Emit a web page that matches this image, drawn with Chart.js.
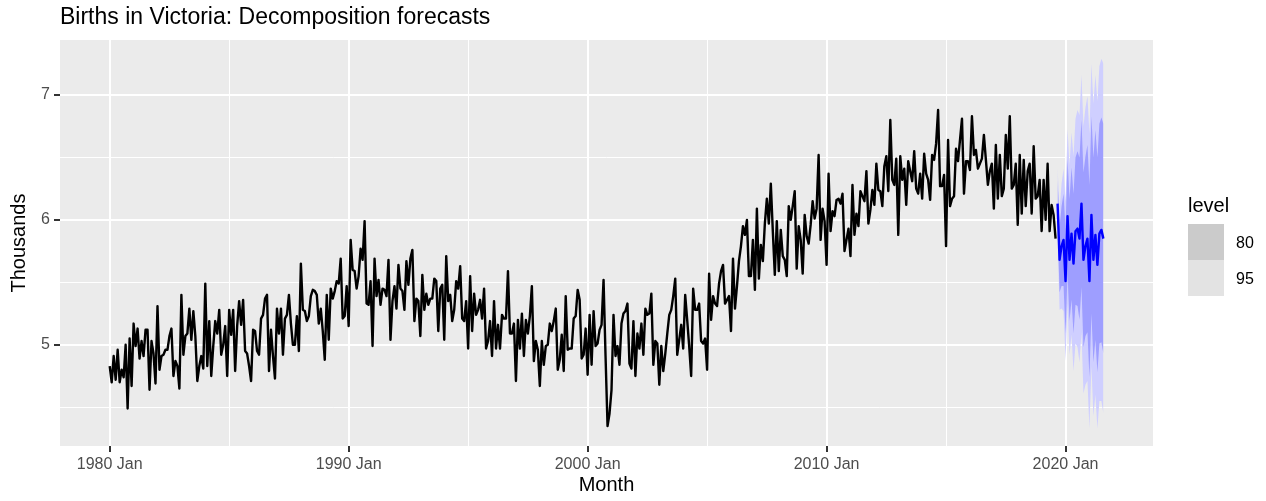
<!DOCTYPE html>
<html>
<head>
<meta charset="utf-8">
<script src="https://cdn.jsdelivr.net/npm/chart.js@4.4.1/dist/chart.umd.min.js"></script>
<style>
  html, body { margin: 0; padding: 0; background: #ffffff; }
  #wrap { width: 1266px; height: 501px; }
</style>
</head>
<body>
<div id="wrap"><canvas id="chart" width="1266" height="501"></canvas></div>
<script>
// monthly births (thousands), Jan 1980 .. Aug 2019
const startYear = 1980;
const births1980s = [
  4.83, 4.70, 4.91, 4.72, 4.96, 4.70, 4.80, 4.74, 5.00, 4.49, 5.05, 4.67,
  5.17, 4.99, 5.13, 4.89, 5.03, 4.91, 5.12, 5.12, 4.64, 5.03, 4.93, 4.69,
  5.31, 4.80, 4.91, 4.92, 4.96, 4.96, 5.07, 5.13, 4.75, 4.87, 4.83, 4.65,
  5.40, 4.92, 5.07, 5.09, 5.29, 5.04, 5.27, 5.07, 4.71, 4.83, 4.91, 4.81,
  5.49, 4.83, 5.19, 4.75, 4.99, 5.19, 5.09, 5.28, 4.92, 5.00, 5.15, 4.75,
  5.28, 5.08, 5.28, 4.79, 5.15, 5.35, 5.16, 5.36, 4.95, 4.93, 4.83, 4.71,
  5.12, 5.11, 4.95, 4.92, 5.21, 5.24, 5.37, 5.40, 4.79, 5.12, 4.91, 4.73,
  5.29, 5.09, 5.29, 4.92, 5.21, 5.24, 5.40, 5.17, 5.00, 5.00, 5.23, 4.95,
  5.65, 5.28, 5.27, 5.19, 5.23, 5.39, 5.44, 5.43, 5.40, 5.17, 5.29, 5.11,
  4.88, 5.40, 5.04, 5.45, 5.37, 5.43, 5.51, 5.49, 5.69, 5.21, 5.23, 5.47
];
const births1990s = [
  5.15, 5.84, 5.60, 5.59, 5.45, 5.55, 5.77, 5.68, 5.99, 5.33, 5.32, 5.51,
  4.99, 5.69, 5.39, 5.52, 5.32, 5.45, 5.44, 5.39, 5.68, 5.04, 5.35, 5.47,
  5.29, 5.64, 5.45, 5.43, 5.28, 5.67, 5.48, 5.69, 5.76, 5.19, 5.37, 5.35,
  5.07, 5.56, 5.28, 5.41, 5.32, 5.37, 5.37, 5.53, 5.51, 5.11, 5.45, 5.48,
  5.04, 5.71, 5.35, 5.40, 5.19, 5.28, 5.51, 5.45, 5.63, 5.21, 5.19, 5.35,
  4.97, 5.55, 5.11, 5.41, 5.24, 5.28, 5.36, 5.21, 5.45, 4.97, 5.03, 5.19,
  4.91, 5.35, 4.97, 5.16, 4.97, 5.24, 5.21, 5.21, 5.59, 5.09, 5.09, 5.17,
  4.71, 5.20, 4.97, 5.25, 4.91, 5.20, 5.09, 5.23, 5.47, 4.87, 5.03, 4.96,
  4.67, 5.03, 4.84, 4.99, 5.00, 5.17, 5.11, 5.19, 5.29, 4.80, 4.88, 5.08,
  4.79, 5.39, 4.96, 4.97, 4.97, 5.21, 5.23, 5.44, 5.36, 4.89, 4.92, 5.13
];
const births2000s = [
  4.76, 5.24, 4.84, 5.27, 4.99, 5.01, 5.12, 5.16, 5.52, 4.91, 4.35, 4.45,
  4.64, 5.24, 4.91, 4.99, 4.84, 5.17, 5.25, 5.27, 5.33, 4.85, 4.81, 5.19,
  4.75, 5.09, 4.97, 5.17, 4.92, 5.29, 5.24, 5.25, 5.41, 4.84, 5.03, 5.01,
  4.68, 4.99, 4.79, 4.93, 5.09, 5.24, 5.28, 5.39, 5.53, 4.92, 5.04, 5.16,
  4.97, 5.40, 5.20, 4.99, 4.75, 5.45, 5.28, 5.28, 5.33, 5.03, 5.01, 5.05,
  4.80, 5.57, 5.20, 5.39, 5.33, 5.31, 5.49, 5.59, 5.64, 5.33, 5.36, 5.39,
  5.11, 5.69, 5.29, 5.47, 5.67, 5.79, 5.95, 5.88, 6.00, 5.55, 5.55, 5.84,
  5.44, 6.09, 5.53, 5.80, 5.67, 5.97, 6.17, 5.97, 6.29, 5.91, 5.56, 5.99,
  5.59, 5.92, 5.71, 5.68, 5.55, 6.11, 6.00, 6.11, 6.23, 5.61, 5.95, 5.84,
  5.57, 6.04, 5.87, 5.81, 5.96, 6.15, 6.01, 6.09, 6.52, 5.84, 6.09, 5.99
];
const births2010s = [
  5.64, 6.37, 5.91, 6.07, 6.03, 6.16, 6.17, 6.13, 6.21, 5.75, 5.84, 5.93,
  5.71, 6.28, 5.88, 6.05, 5.95, 6.23, 6.19, 6.15, 6.39, 5.97, 6.08, 6.24,
  6.12, 6.45, 6.24, 6.23, 6.11, 6.43, 6.51, 6.23, 6.80, 6.32, 6.28, 6.49,
  5.88, 6.51, 6.32, 6.41, 6.12, 6.47, 6.39, 6.31, 6.55, 6.25, 6.21, 6.37,
  6.17, 6.53, 6.37, 6.32, 6.16, 6.52, 6.48, 6.61, 6.88, 6.27, 6.27, 6.36,
  5.79, 6.64, 6.11, 6.17, 6.19, 6.57, 6.47, 6.64, 6.81, 6.21, 6.47, 6.47,
  6.40, 6.83, 6.52, 6.56, 6.41, 6.45, 6.49, 6.68, 6.48, 6.28, 6.39, 6.45,
  6.09, 6.60, 6.17, 6.52, 6.19, 6.25, 6.68, 6.41, 6.83, 6.25, 6.28, 6.45,
  5.96, 6.52, 6.05, 6.48, 6.11, 6.39, 6.45, 6.05, 6.59, 6.17, 6.19, 6.32,
  5.91, 6.32, 6.00, 6.45, 5.91, 6.12, 6.04, 5.85
];

// forecasts, Sep 2019 .. Aug 2021
const fcMean = [6.13, 5.68, 5.79, 5.84, 5.51, 6.03, 5.68, 5.89, 5.65, 5.91, 5.93, 5.85,
                6.13, 5.68, 5.79, 5.85, 5.51, 6.04, 5.68, 5.88, 5.64, 5.89, 5.92, 5.85];
const fcHi80 = [6.32, 5.94, 6.11, 6.21, 5.93, 6.49, 6.17, 6.42, 6.21, 6.50, 6.55, 6.50,
                6.80, 6.38, 6.51, 6.60, 6.28, 6.83, 6.50, 6.72, 6.50, 6.77, 6.82, 6.77];
const fcLo80 = [5.94, 5.42, 5.47, 5.47, 5.09, 5.57, 5.19, 5.36, 5.09, 5.32, 5.31, 5.20,
                5.46, 4.98, 5.07, 5.10, 4.74, 5.25, 4.86, 5.04, 4.78, 5.01, 5.02, 4.93];
const fcHi95 = [6.42, 6.08, 6.29, 6.41, 6.15, 6.73, 6.44, 6.70, 6.51, 6.81, 6.88, 6.84,
                7.16, 6.75, 6.90, 6.99, 6.69, 7.25, 6.93, 7.16, 6.95, 7.23, 7.29, 7.25];
const fcLo95 = [5.84, 5.28, 5.29, 5.27, 4.87, 5.33, 4.92, 5.08, 4.79, 5.01, 4.98, 4.86,
                5.10, 4.61, 4.68, 4.71, 4.33, 4.83, 4.43, 4.60, 4.33, 4.55, 4.55, 4.45];

const xTickYears = [1980, 1990, 2000, 2010, 2020];
const xTickLabels = ['1980 Jan', '1990 Jan', '2000 Jan', '2010 Jan', '2020 Jan'];
const yTickValues = [5, 6, 7];
const legendLevels = ['80', '95'];

const FONT = '"Liberation Sans", Arial, Helvetica, sans-serif';
const PANEL = { left: 60, top: 40, right: 1153, bottom: 446 };

const history = [].concat(births1980s, births1990s, births2000s, births2010s);
const monthX = i => startYear + i / 12;
const histPts = history.map((v, i) => ({ x: monthX(i), y: v }));
const fcStart = history.length;
const fcPts = arr => arr.map((v, i) => ({ x: monthX(fcStart + i), y: v }));

const isMajorX = v => xTickYears.includes(v);
const isMajorY = v => yTickValues.includes(v);

// panel background, titles and legend (ggplot look)
const decor = {
  id: 'decor',
  beforeDraw(chart) {
    const c = chart.ctx;
    const a = chart.chartArea;
    c.save();
    c.fillStyle = '#ffffff';
    c.fillRect(0, 0, chart.width, chart.height);
    c.fillStyle = '#ebebeb';
    c.fillRect(a.left, a.top, a.right - a.left, a.bottom - a.top);
    c.restore();
  },
  afterDraw(chart) {
    const c = chart.ctx;
    const a = chart.chartArea;
    c.save();
    c.fillStyle = '#000000';
    c.textBaseline = 'alphabetic';

    c.font = '23px ' + FONT;
    c.textAlign = 'left';
    c.fillText('Births in Victoria: Decomposition forecasts', a.left, 24);

    c.font = '20px ' + FONT;
    c.textAlign = 'center';
    c.fillText('Month', (a.left + a.right) / 2, 491);

    c.save();
    c.translate(25, (a.top + a.bottom) / 2);
    c.rotate(-Math.PI / 2);
    c.fillText('Thousands', 0, 0);
    c.restore();

    // legend
    c.textAlign = 'left';
    c.font = '20px ' + FONT;
    c.fillText('level', 1188, 212);
    const swatch = ['#cbcbcb', '#e3e3e3'];
    c.font = '16px ' + FONT;
    legendLevels.forEach((lab, i) => {
      const y = 224 + i * 36;
      c.fillStyle = swatch[i];
      c.fillRect(1188, y, 36, 36);
      c.fillStyle = '#000000';
      c.fillText(lab, 1236, y + 24);
    });
    c.restore();
  }
};

const band = (data, color, fill, order) => ({
  data: data,
  borderWidth: 0,
  pointRadius: 0,
  backgroundColor: color,
  fill: fill,
  order: order
});

new Chart(document.getElementById('chart'), {
  type: 'line',
  data: {
    datasets: [
      band(fcPts(fcHi95), 'rgb(207,207,255)', '+1', 5),
      band(fcPts(fcLo95), 'rgb(207,207,255)', false, 5),
      band(fcPts(fcHi80), 'rgb(158,158,255)', '+1', 4),
      band(fcPts(fcLo80), 'rgb(158,158,255)', false, 4),
      {
        data: histPts,
        borderColor: '#000000',
        borderWidth: 2.4,
        borderJoinStyle: 'round',
        pointRadius: 0,
        fill: false,
        order: 2
      },
      {
        data: fcPts(fcMean),
        borderColor: '#0000ff',
        borderWidth: 2.4,
        borderJoinStyle: 'round',
        pointRadius: 0,
        fill: false,
        order: 1
      }
    ]
  },
  options: {
    responsive: false,
    animation: false,
    layout: { padding: { top: PANEL.top, right: 1266 - PANEL.right, left: 0, bottom: 0 } },
    plugins: {
      legend: { display: false },
      title: { display: false },
      tooltip: { enabled: false }
    },
    scales: {
      x: {
        type: 'linear',
        min: 1977.92,
        max: 2023.66,
        afterFit: s => { s.height = 501 - PANEL.bottom; },
        afterBuildTicks: s => {
          s.ticks = [1980, 1985, 1990, 1995, 2000, 2005, 2010, 2015, 2020].map(v => ({ value: v }));
        },
        border: { display: false },
        grid: {
          color: '#ffffff',
          lineWidth: ctx => isMajorX(ctx.tick.value) ? 2 : 1,
          tickColor: ctx => isMajorX(ctx.tick.value) ? '#333333' : 'rgba(0,0,0,0)',
          tickLength: 6,
          drawTicks: true
        },
        ticks: {
          autoSkip: false,
          maxRotation: 0,
          padding: 3,
          color: '#4d4d4d',
          font: { family: FONT, size: 16 },
          callback: v => isMajorX(v) ? xTickLabels[xTickYears.indexOf(v)] : ''
        }
      },
      y: {
        min: 4.19,
        max: 7.44,
        afterFit: s => { s.width = PANEL.left; },
        afterBuildTicks: s => {
          s.ticks = [4.5, 5, 5.5, 6, 6.5, 7].map(v => ({ value: v }));
        },
        border: { display: false },
        grid: {
          color: '#ffffff',
          lineWidth: ctx => isMajorY(ctx.tick.value) ? 2 : 1,
          tickColor: ctx => isMajorY(ctx.tick.value) ? '#333333' : 'rgba(0,0,0,0)',
          tickLength: 6,
          drawTicks: true
        },
        ticks: {
          autoSkip: false,
          padding: 4,
          color: '#4d4d4d',
          font: { family: FONT, size: 16 },
          callback: v => isMajorY(v) ? String(v) : ''
        }
      }
    }
  },
  plugins: [decor]
});
</script>
</body>
</html>
